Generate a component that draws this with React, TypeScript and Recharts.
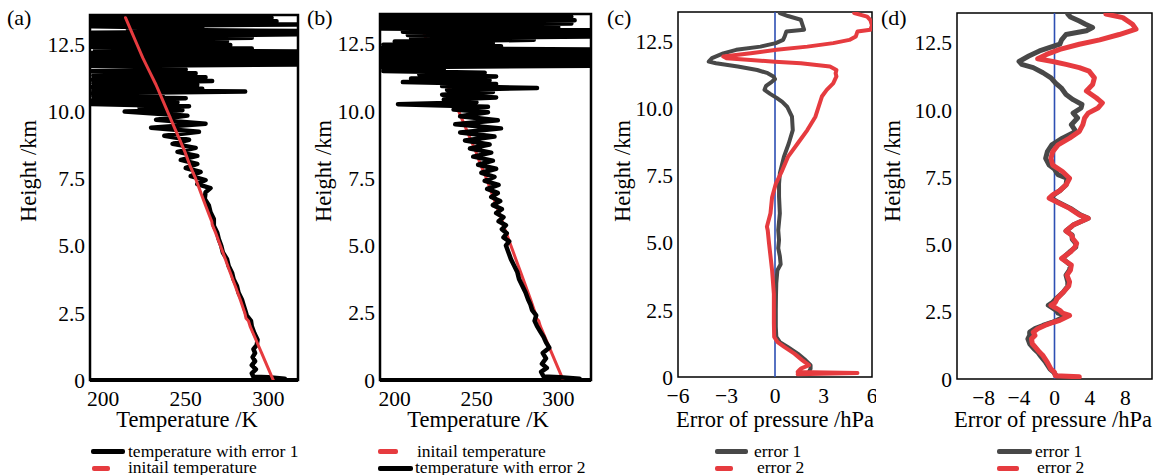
import { ScatterChart, Scatter, XAxis, YAxis, ReferenceArea, ReferenceLine, Label } from 'recharts';

const FONT = '"Liberation Serif", "Times New Roman", serif';
const RED = '#e63b3f';
const GRAY = '#484848';
const BLUE = '#2d4fb3';

const heightTicks = [0, 2.5, 5, 7.5, 10, 12.5];
const temperatureTicks = [200, 250, 300];
const pressureTicksC = [-6, -3, 0, 3, 6];
const pressureTicksD = [-8, -4, 0, 4, 8];

// every row is [height km, value]
const initialTemp = [
    [0, 303], [0.5, 299.5], [1, 296], [1.5, 292.5], [2, 289], [2.2, 288], [2.3, 286.5], [2.5, 285.8],
    [3, 283], [3.5, 280], [4, 277], [4.5, 274], [5, 271], [5.5, 268], [5.8, 266], [5.9, 265.8],
    [6.1, 264.5], [6.5, 262], [7, 259], [7.5, 256], [8, 252.5], [8.5, 249.5], [9, 246], [9.5, 242.5],
    [10, 239], [10.5, 235.5], [11, 232], [11.5, 228], [12, 224], [12.5, 220.5], [13, 217], [13.5, 213.5],
];

const tempError1 = [
    [0.05, 310], [0.1, 300], [0.12, 291], [0.25, 290], [0.4, 292.5], [0.55, 290], [0.7, 292], [0.85, 290.5],
    [1.0, 292], [1.15, 291], [1.3, 293], [1.5, 293.5], [1.75, 291.5], [2.0, 290], [2.2, 289.5], [2.4, 287],
    [2.6, 286], [2.8, 285], [3.0, 284], [3.25, 282], [3.5, 281], [3.75, 279], [4.0, 278], [4.25, 276],
    [4.5, 275], [4.75, 272.5], [5.0, 271.5], [5.25, 270], [5.5, 269], [5.75, 267], [6.0, 267], [6.25, 265],
    [6.5, 264], [6.75, 261.5], [7.0, 262], [7.15, 265], [7.3, 257], [7.45, 262], [7.6, 253], [7.75, 259],
    [7.9, 250], [8.05, 257], [8.2, 247], [8.35, 257], [8.5, 245], [8.65, 256], [8.8, 242], [8.95, 252],
    [9.1, 237], [9.25, 258], [9.4, 229], [9.55, 262], [9.7, 232], [9.85, 251], [10.0, 213], [10.05, 248],
    [10.15, 222], [10.2, 252], [10.28, 193], [10.35, 245], [10.42, 193], [10.5, 250], [10.57, 194], [10.62, 236],
    [10.68, 193], [10.75, 286], [10.8, 194], [10.85, 260], [10.92, 193], [11.0, 257], [11.06, 194], [11.14, 266],
    [11.2, 193], [11.28, 262], [11.35, 194], [11.43, 256], [11.5, 193], [11.57, 250], [11.64, 245], [11.7, 193],
    [11.76, 318], [11.82, 193], [11.88, 318], [11.94, 193], [12.0, 318], [12.06, 193], [12.12, 318], [12.18, 193],
    [12.24, 318], [12.3, 195], [12.35, 290], [12.42, 193], [12.48, 277], [12.55, 193], [12.62, 275], [12.68, 193],
    [12.75, 290], [12.82, 193], [12.88, 318], [12.94, 193], [13.0, 318], [13.06, 215], [13.12, 260], [13.18, 193],
    [13.25, 318], [13.31, 193], [13.37, 305], [13.43, 193], [13.5, 302], [13.56, 193], [13.6, 300],
];

const tempError2 = [
    [0.05, 313], [0.1, 301], [0.13, 291], [0.3, 289.5], [0.45, 293], [0.6, 290], [0.8, 292.5], [1.0, 290.5],
    [1.2, 294.5], [1.4, 292.5], [1.6, 291], [1.8, 289], [2.0, 287], [2.2, 285.5], [2.4, 286.5], [2.6, 284],
    [2.8, 283], [3.0, 281.5], [3.25, 280], [3.5, 278], [3.75, 276], [4.0, 275], [4.25, 273], [4.5, 271],
    [4.75, 269.5], [5.0, 268], [5.15, 270], [5.3, 266.5], [5.45, 268.5], [5.6, 265.5], [5.75, 268], [5.9, 263.5],
    [6.05, 266.5], [6.2, 262], [6.35, 265.5], [6.5, 260], [6.65, 264.5], [6.8, 259], [6.95, 263], [7.1, 256.5],
    [7.25, 263.5], [7.4, 255], [7.55, 261], [7.7, 253], [7.85, 262], [8.0, 251], [8.15, 260], [8.3, 248],
    [8.45, 259], [8.6, 246], [8.75, 258], [8.9, 243], [9.05, 261], [9.2, 240], [9.35, 265], [9.5, 237],
    [9.65, 263], [9.8, 240], [9.95, 257], [10.05, 236], [10.15, 257], [10.25, 202], [10.32, 250], [10.42, 230],
    [10.5, 262], [10.6, 229], [10.7, 260], [10.78, 232], [10.85, 287], [10.92, 229], [11.0, 262], [11.07, 205],
    [11.14, 258], [11.2, 210], [11.28, 262], [11.35, 215], [11.42, 255], [11.48, 193], [11.55, 230], [11.62, 192],
    [11.68, 320], [11.74, 192], [11.8, 320], [11.86, 192], [11.92, 320], [11.98, 192], [12.04, 320], [12.1, 192],
    [12.16, 320], [12.22, 192], [12.28, 320], [12.34, 192], [12.4, 265], [12.46, 193], [12.52, 260], [12.58, 200],
    [12.64, 285], [12.7, 210], [12.76, 320], [12.82, 208], [12.88, 320], [12.94, 205], [13.0, 320], [13.06, 192],
    [13.12, 300], [13.18, 192], [13.25, 308], [13.31, 192], [13.37, 310], [13.43, 192], [13.5, 308], [13.56, 192],
    [13.6, 290],
];

const pressError1C = [
    [0.19, 2.1], [0.31, 2.2], [0.44, 2.2], [0.62, 1.9], [0.87, 1.4], [1.12, 0.78], [1.3, 0.3], [1.5, 0.08],
    [1.87, 0.05], [2.5, 0.05], [3.0, 0.06], [3.5, 0.08], [3.98, 0.15], [4.2, 0.35], [4.5, 0.3], [4.8, 0.2],
    [5.1, 0.25], [5.47, 0.2], [6.1, 0.3], [6.72, 0.25], [7.2, 0.25], [7.59, 0.3], [8.2, 0.55], [8.7, 0.85],
    [9.2, 1.1], [9.7, 1.05], [10.07, 0.75], [10.25, 0.45], [10.4, 0.1], [10.55, -0.3], [10.7, -0.65], [10.85, -0.55],
    [11.0, -0.2], [11.1, 0.0], [11.2, -0.1], [11.32, -0.45], [11.44, -1.1], [11.57, -2.3], [11.69, -3.65], [11.75, -4.1],
    [11.88, -3.9], [12.06, -3.2], [12.19, -2.4], [12.31, -0.9], [12.44, 0.05], [12.56, 0.5], [12.69, 0.6], [12.87, 0.7],
    [12.94, 1.8], [13.12, 1.7], [13.31, 1.6], [13.45, 0.8], [13.56, 0.3],
];

const pressError2C = [
    [0.1, 1.4], [0.15, 5.1], [0.19, 1.4], [0.25, 1.5], [0.31, 1.6], [0.44, 2.1], [0.62, 1.7], [0.87, 1.2],
    [1.12, 0.57], [1.3, 0.16], [1.49, -0.05], [2.0, -0.07], [2.5, -0.07], [3.1, -0.07], [3.5, -0.12], [3.98, -0.18],
    [4.35, -0.25], [4.98, -0.37], [5.47, -0.45], [5.6, -0.5], [6.1, -0.28], [6.7, -0.18], [7.2, 0.05], [7.7, 0.45],
    [8.2, 0.8], [8.7, 1.4], [9.2, 2.0], [9.7, 2.5], [10.07, 2.7], [10.45, 2.9], [10.7, 3.2], [10.94, 3.6],
    [11.2, 3.8], [11.32, 3.75], [11.44, 3.8], [11.57, 3.4], [11.69, 1.6], [11.75, 0.0], [11.81, -1.5], [11.88, -3.0],
    [11.94, -3.2], [12.06, -1.5], [12.19, 0.1], [12.31, 2.0], [12.44, 3.6], [12.56, 4.6], [12.69, 5.0], [12.87, 5.1],
    [12.94, 5.9], [13.1, 6.0], [13.3, 5.9], [13.43, 5.7], [13.56, 4.9],
];

const pressError1D = [
    [0.12, 0.2], [0.25, -0.1], [0.37, -0.5], [0.62, -1.0], [0.87, -1.6], [1.0, -1.9], [1.12, -2.3], [1.31, -2.8],
    [1.49, -3.0], [1.62, -2.8], [1.74, -2.8], [1.87, -2.2], [1.99, -1.3], [2.1, -0.3], [2.18, 0.3], [2.36, 1.4],
    [2.45, 0.4], [2.55, 0.2], [2.74, -0.7], [2.85, -0.2], [2.99, 0.2], [3.23, 1.0], [3.45, 1.5], [3.61, 1.5],
    [3.86, 1.3], [4.05, 1.7], [4.23, 1.8], [4.48, 0.9], [4.72, 1.7], [4.9, 2.4], [5.04, 2.4], [5.2, 2.0],
    [5.35, 2.0], [5.5, 1.3], [5.72, 2.1], [5.97, 3.8], [6.1, 2.9], [6.34, 1.8], [6.59, 0.3], [6.72, -0.4],
    [6.84, -0.1], [7.0, 0.6], [7.21, 1.3], [7.46, 1.4], [7.59, 0.4], [7.8, 0.0], [7.95, -0.6], [8.2, -1.0],
    [8.45, -0.8], [8.7, -0.3], [8.95, 0.9], [9.2, 2.4], [9.45, 1.9], [9.7, 2.6], [9.88, 2.1], [10.07, 3.0],
    [10.2, 3.1], [10.38, 2.1], [10.57, 1.3], [10.82, 0.75], [11.0, 0.1], [11.19, -0.4], [11.38, -1.3], [11.57, -2.4],
    [11.69, -3.7], [11.8, -4.0], [12.0, -2.9], [12.19, -1.7], [12.31, -0.6], [12.44, 0.6], [12.6, 0.8], [12.8, 1.3],
    [12.94, 3.6], [13.06, 4.3], [13.18, 3.5], [13.3, 2.8], [13.45, 1.8], [13.56, 1.5],
];

const pressError2D = [
    [0.08, 2.8], [0.12, 0.1], [0.25, 0.0], [0.37, -0.4], [0.62, -0.8], [0.87, -1.3], [1.0, -1.7], [1.12, -2.0],
    [1.31, -2.5], [1.49, -2.6], [1.62, -2.2], [1.74, -2.4], [1.87, -1.9], [1.99, -1.1], [2.1, -0.2], [2.18, 0.6],
    [2.36, 1.7], [2.45, 0.9], [2.55, 0.6], [2.74, -0.4], [2.85, 0.1], [2.99, 0.3], [3.23, 1.0], [3.45, 1.6],
    [3.61, 1.7], [3.86, 1.4], [4.05, 1.8], [4.23, 1.9], [4.48, 0.8], [4.72, 1.8], [4.9, 2.3], [5.04, 2.5],
    [5.2, 2.1], [5.35, 1.9], [5.5, 1.3], [5.72, 2.1], [5.97, 3.8], [6.1, 2.8], [6.34, 1.7], [6.59, 0.2],
    [6.72, -0.6], [6.84, -0.2], [7.0, 0.6], [7.21, 1.3], [7.46, 1.7], [7.71, 0.9], [7.95, -0.2], [8.2, -0.4],
    [8.45, -0.2], [8.7, 0.4], [8.95, 1.7], [9.2, 2.8], [9.45, 3.2], [9.7, 3.4], [9.88, 3.8], [10.07, 4.9],
    [10.26, 5.4], [10.45, 4.7], [10.7, 3.6], [10.94, 4.3], [11.19, 4.5], [11.44, 3.9], [11.57, 2.8], [11.69, 1.3],
    [11.8, -0.2], [11.9, -1.9], [12.06, -0.9], [12.25, 0.6], [12.44, 2.8], [12.6, 5.1], [12.8, 7.3], [13.0, 9.2],
    [13.18, 8.8], [13.43, 7.7], [13.56, 5.8],
];

const toPoints = (rows: number[][]) => rows.map(([h, v]) => ({ x: v, y: h }));
const noDot = () => <g />;
const fmtHeight = (v: number) => (v === 0 ? '0' : v.toFixed(1));
const fmtSigned = (v: number) => (v < 0 ? `\u2212${Math.abs(v)}` : `${v}`);

interface SeriesDef {
    name: string;
    rows: number[][];
    color: string;
    width: number;
}

interface LegendRowDef {
    label: string;
    color: string;
    sampleX: number;
    sampleW: number;
    textX: number;
}

interface PanelProps {
    tag: string;
    tagX: number;
    left: number;
    plotLeft: number;
    plotRight: number;
    plotTop: number;
    plotBottom: number;
    xDomain: [number, number];
    xTicks: number[];
    xFormat?: (v: number) => string;
    xLabel: string;
    xLabelCenter: number;
    yLabelX: number;
    frame: number;
    bottomAxis?: number;
    series: SeriesDef[];
    zeroLine?: boolean;
    legend: LegendRowDef[];
}

const textStyle = { fill: '#000', fontSize: 21.5, fontFamily: FONT };

function Panel(p: PanelProps) {
    const width = p.plotRight - p.left + 4;
    const yTop = 13.6;
    return (
        <>
            <div style={{ position: 'absolute', left: p.left, top: 0 }}>
                <ScatterChart width={width} height={475} margin={{ top: p.plotTop, right: 4, bottom: 0, left: 0 }}>
                    <XAxis
                        type="number"
                        dataKey="x"
                        domain={p.xDomain}
                        ticks={p.xTicks}
                        interval={0}
                        allowDataOverflow
                        height={475 - p.plotBottom}
                        axisLine={false}
                        tickLine={false}
                        tickSize={0}
                        tickMargin={11}
                        tick={textStyle}
                        tickFormatter={p.xFormat}
                        label={
                            <Label
                                content={() => (
                                    <text x={p.xLabelCenter} y={427} textAnchor="middle" fontSize={22.5} fontFamily={FONT} fill="#000">
                                        {p.xLabel}
                                    </text>
                                )}
                            />
                        }
                    />
                    <YAxis
                        type="number"
                        dataKey="y"
                        domain={[0, yTop]}
                        ticks={heightTicks}
                        interval={0}
                        allowDataOverflow
                        width={p.plotLeft - p.left}
                        axisLine={false}
                        tickLine={false}
                        tickSize={0}
                        tickMargin={5}
                        tick={textStyle}
                        tickFormatter={fmtHeight}
                        label={
                            <Label
                                content={() => (
                                    <text
                                        x={p.yLabelX}
                                        y={171}
                                        transform={`rotate(-90, ${p.yLabelX}, 171)`}
                                        textAnchor="middle"
                                        fontSize={22.5}
                                        fontFamily={FONT}
                                        fill="#000"
                                    >
                                        Height /km
                                    </text>
                                )}
                            />
                        }
                    />
                    <ReferenceArea
                        x1={p.xDomain[0]}
                        x2={p.xDomain[1]}
                        y1={0}
                        y2={yTop}
                        fill="none"
                        fillOpacity={0}
                        stroke="#000"
                        strokeWidth={p.frame}
                        ifOverflow="visible"
                    />
                    {p.series.map((s) => (
                        <Scatter
                            key={s.name}
                            name={s.name}
                            data={toPoints(s.rows)}
                            fill={s.color}
                            line={{ stroke: s.color, strokeWidth: s.width, strokeLinejoin: 'round', strokeLinecap: 'round' }}
                            lineType="joint"
                            shape={noDot}
                            isAnimationActive={false}
                        />
                    ))}
                    {p.bottomAxis && <ReferenceLine y={0} stroke="#000" strokeWidth={p.bottomAxis} ifOverflow="visible" />}
                    {p.zeroLine && <ReferenceLine x={0} stroke={BLUE} strokeWidth={1.6} />}
                </ScatterChart>
            </div>
            <div style={{ position: 'absolute', left: p.tagX, top: 7, fontSize: 22, lineHeight: '22px', fontFamily: FONT }}>
                {p.tag}
            </div>
            {p.legend.map((row, i) => (
                <div key={row.label}>
                    <div
                        style={{
                            position: 'absolute',
                            left: row.sampleX,
                            top: 449 + i * 17,
                            width: row.sampleW,
                            height: 5,
                            background: row.color,
                            borderRadius: 2,
                        }}
                    />
                    <div
                        style={{
                            position: 'absolute',
                            left: row.textX,
                            top: 443 + i * 16,
                            fontSize: 17.5,
                            lineHeight: '16px',
                            fontFamily: FONT,
                            whiteSpace: 'nowrap',
                        }}
                    >
                        {row.label}
                    </div>
                </div>
            ))}
        </>
    );
}

export default function App() {
    return (
        <div style={{ position: 'absolute', left: 0, top: 0, width: 1155, height: 475, background: '#fff', overflow: 'hidden' }}>
            <Panel
                tag="(a)"
                tagX={7}
                left={0}
                plotLeft={90}
                plotRight={298}
                plotTop={15}
                plotBottom={380}
                xDomain={[192, 318]}
                xTicks={temperatureTicks}
                xLabel="Temperature /K"
                xLabelCenter={187}
                yLabelX={36}
                frame={2.5}
                bottomAxis={4}
                series={[
                    { name: 'temperature with error 1', rows: tempError1, color: '#000', width: 4.5 },
                    { name: 'initail temperature', rows: initialTemp, color: RED, width: 3 },
                ]}
                legend={[
                    { label: 'temperature with error 1', color: '#000', sampleX: 91, sampleW: 34, textX: 128 },
                    { label: 'initail temperature', color: RED, sampleX: 92, sampleW: 18, textX: 128 },
                ]}
            />
            <Panel
                tag="(b)"
                tagX={307}
                left={300}
                plotLeft={380}
                plotRight={591}
                plotTop={14}
                plotBottom={380}
                xDomain={[191, 320]}
                xTicks={temperatureTicks}
                xLabel="Temperature /K"
                xLabelCenter={178}
                yLabelX={31}
                frame={2.5}
                bottomAxis={4}
                series={[
                    { name: 'initail temperature', rows: initialTemp, color: RED, width: 3 },
                    { name: 'temperature with error 2', rows: tempError2, color: '#000', width: 4.5 },
                ]}
                legend={[
                    { label: 'initail temperature', color: RED, sampleX: 378, sampleW: 20, textX: 417 },
                    { label: 'temperature with error 2', color: '#000', sampleX: 378, sampleW: 35, textX: 415 },
                ]}
            />
            <Panel
                tag="(c)"
                tagX={607}
                left={598}
                plotLeft={678}
                plotRight={872}
                plotTop={12}
                plotBottom={377}
                xDomain={[-6, 6]}
                xTicks={pressureTicksC}
                xFormat={fmtSigned}
                xLabel="Error of pressure /hPa"
                xLabelCenter={177}
                yLabelX={32}
                frame={1.5}
                zeroLine
                series={[
                    { name: 'error 1', rows: pressError1C, color: GRAY, width: 4 },
                    { name: 'error 2', rows: pressError2C, color: RED, width: 4 },
                ]}
                legend={[
                    { label: 'error 1', color: GRAY, sampleX: 715, sampleW: 33, textX: 754 },
                    { label: 'error 2', color: RED, sampleX: 715, sampleW: 18, textX: 757 },
                ]}
            />
            <Panel
                tag="(d)"
                tagX={881}
                left={878}
                plotLeft={957}
                plotRight={1152}
                plotTop={13}
                plotBottom={379}
                xDomain={[-11, 11]}
                xTicks={pressureTicksD}
                xFormat={fmtSigned}
                xLabel="Error of pressure /hPa"
                xLabelCenter={175}
                yLabelX={22}
                frame={1.5}
                zeroLine
                series={[
                    { name: 'error 1', rows: pressError1D, color: GRAY, width: 5 },
                    { name: 'error 2', rows: pressError2D, color: RED, width: 5 },
                ]}
                legend={[
                    { label: 'error 1', color: GRAY, sampleX: 997, sampleW: 35, textX: 1035 },
                    { label: 'error 2', color: RED, sampleX: 997, sampleW: 22, textX: 1037 },
                ]}
            />
        </div>
    );
}
